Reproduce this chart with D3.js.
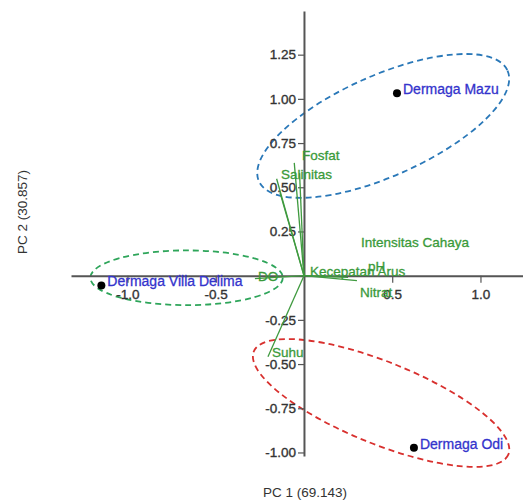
<!DOCTYPE html>
<html>
<head>
<meta charset="utf-8">
<script src="https://cdn.jsdelivr.net/npm/d3@7"></script>
<style>
  body { margin: 0; background: #fff; }
  svg { display: block; font-family: 'Liberation Sans', Arial, sans-serif; }
</style>
</head>
<body>
<svg id="chart" width="523" height="501"></svg>
<script>
'use strict'

// sites (PCA scores)
const sites = ['Dermaga Mazu', 'Dermaga Odi', 'Dermaga Villa Delima']
const siteX = [0.527, 0.623, -1.148]
const siteY = [1.032, -0.974, -0.055]

// variables (loadings) and where their labels sit, in PC units
const vars = ['Fosfat', 'Salinitas', 'Intensitas Cahaya', 'pH', 'DO', 'Kecepatan Arus', 'Nitrat', 'Suhu']
const varX = [-0.055, -0.155, -0.136, -0.025, -0.278, 0.300, 0.250, -0.204]
const varY = [0.638, 0.548, 0.470, 0.580, -0.017, -0.028, -0.010, -0.459]
const labelX = [-0.011, -0.130, 0.323, 0.363, -0.261, 0.034, 0.317, -0.181]
const labelY = [0.652, 0.544, 0.164, 0.028, -0.028, 0.0, -0.119, -0.459]

// group ellipses: centre, semi axes, rotation (deg)
const groupCx = [0.449, 0.437, -0.665]
const groupCy = [0.847, -0.720, -0.012]
const groupRx = [0.771, 0.778, 0.545]
const groupRy = [0.285, 0.232, 0.155]
const groupAngle = [24, -22, 0]
const groupColor = ['#2a78b8', '#d8302e', '#2ea55a']

const xTicks = [-1.0, -0.5, 0.5, 1.0]
const yTicks = [-1.0, -0.75, -0.5, -0.25, 0.25, 0.5, 0.75, 1.0, 1.25]

const svg = d3.select('#chart')

const x = d3.scaleLinear().domain([-1.32, 1.241]).range([71, 523])
const y = d3.scaleLinear().domain([-1.02, 1.497]).range([456, 11])
const unit = x(1) - x(0)

// plain hyphen minus like the original software
const fmt = f => d => d3.format(f)(d).replace('\u2212', '-')

// ellipses
svg.append('g')
  .selectAll('ellipse')
  .data(groupCx)
  .enter().append('ellipse')
  .attr('transform', (d, i) => `translate(${x(d)},${y(groupCy[i])}) rotate(${-groupAngle[i]})`)
  .attr('rx', (d, i) => groupRx[i] * unit)
  .attr('ry', (d, i) => groupRy[i] * unit)
  .attr('fill', 'none')
  .attr('stroke', (d, i) => groupColor[i])
  .attr('stroke-width', 1.8)
  .attr('stroke-dasharray', '6,4')

// axes
const xAxis = svg.append('g')
  .attr('transform', `translate(0,${y(0)})`)
  .call(d3.axisBottom(x).tickValues(xTicks).tickFormat(fmt('.1f')).tickSize(7).tickPadding(7).tickSizeOuter(0))
const yAxis = svg.append('g')
  .attr('transform', `translate(${x(0)},0)`)
  .call(d3.axisLeft(y).tickValues(yTicks).tickFormat(fmt('.2f')).tickSize(6).tickPadding(2).tickSizeOuter(0))

;[xAxis, yAxis].forEach(a => {
  a.select('.domain').attr('stroke', '#555').attr('stroke-width', 2)
  a.selectAll('.tick line').attr('stroke', '#555').attr('stroke-width', 1.2)
  a.selectAll('.tick text')
    .attr('fill', '#333')
    .attr('stroke', '#333')
    .attr('stroke-width', 0.35)
    .style('font-size', '13.5px')
    .style('font-family', "'Liberation Sans', Arial, sans-serif")
})

// loading vectors
svg.append('g')
  .selectAll('line')
  .data(varX)
  .enter().append('line')
  .attr('x1', x(0))
  .attr('y1', y(0))
  .attr('x2', d => x(d))
  .attr('y2', (d, i) => y(varY[i]))
  .attr('stroke', '#3f9a3f')
  .attr('stroke-width', 1.3)

svg.append('g')
  .selectAll('text')
  .data(vars)
  .enter().append('text')
  .attr('x', (d, i) => x(labelX[i]))
  .attr('y', (d, i) => y(labelY[i]))
  .attr('fill', '#3a9a3a')
  .attr('stroke', '#3a9a3a')
  .attr('stroke-width', 0.3)
  .style('font-size', '13.5px')
  .text(d => d)

// site points
const site = svg.append('g')
  .selectAll('g')
  .data(sites)
  .enter().append('g')
  .attr('transform', (d, i) => `translate(${x(siteX[i])},${y(siteY[i])})`)

site.append('circle')
  .attr('r', 4)
  .attr('fill', '#000')

site.append('text')
  .attr('x', 6)
  .attr('y', 1)
  .attr('fill', '#3333cc')
  .attr('stroke', '#3333cc')
  .attr('stroke-width', 0.3)
  .style('font-size', '14px')
  .text(d => d)

// axis titles
svg.append('text')
  .attr('x', 305)
  .attr('y', 497)
  .attr('text-anchor', 'middle')
  .attr('fill', '#333')
  .style('font-size', '13.5px')
  .text('PC 1 (69.143)')

svg.append('text')
  .attr('transform', 'translate(27,212) rotate(-90)')
  .attr('text-anchor', 'middle')
  .attr('fill', '#333')
  .style('font-size', '13.5px')
  .text('PC 2 (30.857)')
</script>
</body>
</html>
